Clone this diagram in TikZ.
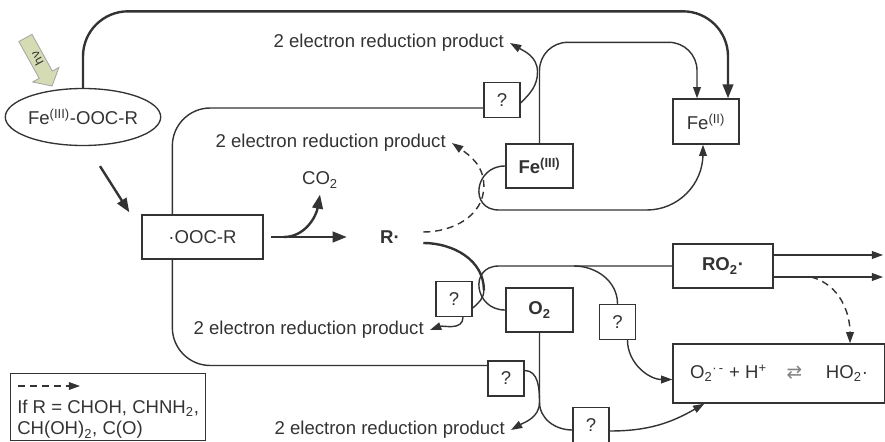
\documentclass[tikz,border=0pt]{standalone}
\usepackage{fontspec}
\setmainfont{Liberation Sans}
\newfontfamily\arrowfont{DejaVu Sans}
\usetikzlibrary{arrows.meta,calc,shapes.geometric}
\definecolor{ink}{HTML}{333333}
\definecolor{lightolive}{HTML}{D5DBB3}
\newlength\pxu
\setlength\pxu{0.025cm}

\begin{document}
\fontsize{13.2}{15}\selectfont
\begin{tikzpicture}[x=\pxu, y=\pxu, text=ink,
    wire/.style={draw=ink, line width=1pt},
    heavy/.style={draw=ink, line width=1.7pt},
    thinarrow/.style={-{Triangle[length=8pt,width=5.5pt]}},
    thickarrow/.style={-{Triangle[length=10pt,width=7.5pt]}},
    dashline/.style={wire, dash pattern=on 5pt off 3.5pt},
    box/.style={draw=ink, line width=0.95pt, inner sep=0pt, minimum height=44\pxu},
    boldbox/.style={box, line width=1.6pt, font=\bfseries},
    qbox/.style={box, minimum width=36\pxu, minimum height=35\pxu},
    product/.style={anchor=east, inner sep=6\pxu}]
    \path[use as bounding box, clip] (0,0) rectangle (885,441);
    % The light arrow for the light.
    \begin{scope}[shift={(38.75,379)}, rotate=-61]
        \filldraw[fill=lightolive, draw=gray!70, line width=0.6pt] (-27.5,-7.5) -- (14.5,-7.5) -- (14.5,-15) -- (27.5,0) -- (14.5,15) -- (14.5,7.5) -- (-27.5,7.5) -- cycle;
        \node[rotate=119, inner sep=0pt, font=\fontsize{9}{10}\selectfont] (hv) at (-4,0) {hν};
    \end{scope}
    % Below nodes are the species.
        \node[draw=ink, line width=0.95pt, ellipse, minimum width=141\pxu, minimum height=57\pxu, inner sep=0pt] (cpx) at (83,324) {Fe\textsuperscript{(III)}-OOC-R};
        \node[box, minimum width=121\pxu] (ooc) at (202.5,204) {·OOC-R};
        \node[font=\bfseries] (r) at (390,204) {R·};
        \node[] (co2) at (320,261) {CO\textsubscript{2}};
        \node[boldbox, minimum width=67\pxu] (fe3) at (539.5,275) {Fe\textsuperscript{(III)}};
        \node[box, minimum width=66\pxu, minimum height=45\pxu] (fe2) at (706,319.5) {Fe\textsuperscript{(II)}};
        \node[boldbox, minimum width=67\pxu] (o2) at (539.5,131) {O\textsubscript{2}};
        \node[boldbox, minimum width=100\pxu] (ro2) at (723,175) {RO\textsubscript{2}·};
        \node[box, minimum width=212\pxu, minimum height=59\pxu] (sup) at (779,67.5) {O\textsubscript{2}\textsuperscript{·\,-} + H\textsuperscript{+}\hspace{14pt}{\arrowfont\color{gray}⇄}\hspace{17pt}HO\textsubscript{2}·};
    % The unknown steps.
        \node[qbox] (q1) at (502,341) {?};
        \node[qbox] (q2) at (454,142) {?};
        \node[qbox] (q3) at (617.5,119) {?};
        \node[qbox] (q4) at (506,62.5) {?};
        \node[qbox] (q5) at (591,16) {?};
    % Below nodes are the products.
        \node[product] (p1) at (510,398) {2 electron reduction product};
        \node[product] (p2) at (452,298) {2 electron reduction product};
        \node[product] (p3) at (430,111) {2 electron reduction product};
        \node[product] (p4) at (511,11) {2 electron reduction product};
    % Key for the dashed arrow.
        \node[box, minimum width=195\pxu, minimum height=67\pxu, anchor=north west] (key) at (10,68) {};
        \draw[dashline, thinarrow] ($(key.north west)+(8,-13)$) -- ++(62,0);
        \node[anchor=north west, align=left, inner sep=0pt] (keytext) at ($(key.north west)+(7,-27)$) {If R = CHOH, CHNH\textsubscript{2},\\CH(OH)\textsubscript{2}, C(O)};
    % Heavy arrows of the main route.
        \draw[heavy, thickarrow, rounded corners=32] (cpx.north) |- ($(fe2.north)+(22,87)$) -- ($(fe2.north)+(22,0)$);
        \draw[heavy, thickarrow] ($(cpx.south)+(17,-20)$) -- ($(ooc.north west)+(-12,2)$);
        \draw[heavy, thickarrow] ($(ooc.east)+(7,0)$) -- ($(r.west)+(-27,0)$);
        \draw[heavy, thickarrow] ($(ooc.east)+(20,0)$) to[out=0, in=-100] (co2.south);
    % Iron cycle.
        \draw[wire, rounded corners=27] ($(ooc.north west)+(31,0)$) |- ($(q1.west)+(0,-8)$);
        \draw[wire, thinarrow] ($(q1.east)+(0,-3)$) to[out=45, in=-90] ($(fe3.north)+(-2,71)$) to[out=90, in=-30] (p1.east);
        \draw[wire, thinarrow, rounded corners=20] (fe3.north) |- ($(fe2.north)+(-9,56)$) -- ($(fe2.north)+(-9,0)$);
        \draw[wire, thinarrow] (fe3.west) to[out=180, in=180, looseness=1.75] ($(fe3.west)+(-6,-44)$) [rounded corners=40] -| ($(fe2.south)+(-3,0)$);
        \draw[dashline, thinarrow] ($(r.east)+(17,5)$) to[out=0, in=-90] ($(fe3.west)+(-21,-20)$) to[out=90, in=-35] (p2.east);
    % Oxygen branch.
        \coordinate (jr) at ($(o2.west)+(-21,20)$);
        \draw[heavy] ($(r.east)+(17,-6)$) to[out=0, in=90] (jr);
        \draw[wire] (jr) to[out=-90, in=40] ($(q2.east)+(0,-9)$);
        \draw[wire, thinarrow] ($(q2.south)+(9,0)$) to[out=-90, in=20] (p3.east);
        \draw[wire] (o2.west) to[out=180, in=180, looseness=1.75] ($(o2.west)+(-6,44)$) -- (ro2.west);
        \draw[wire] ($(o2.west)+(69,44)$) to[out=0, in=90] (q3.north);
        \draw[wire, thinarrow] ($(q3.south)+(10,0)$) to[out=-90, in=180] ($(sup.west)+(0,-6)$);
        \draw[wire, thinarrow] ($(ro2.east)+(0,11)$) -- ++(109,0);
        \draw[wire, thinarrow] ($(ro2.east)+(0,-11)$) -- ++(109,0);
        \draw[dashline, thinarrow] ($(ro2.east)+(37,-11)$) to[out=-15, in=90] ($(sup.north)+(71,0)$);
    % Lower branch.
        \coordinate (jo) at ($(o2.south)+(0,-69)$);
        \draw[wire, rounded corners=27] ($(ooc.south west)+(31,0)$) |- ($(q4.west)+(0,13)$);
        \draw[wire] (o2.south) -- (jo) to[out=-90, in=180] ($(q5.west)+(0,-5)$);
        \draw[wire, thinarrow] ($(q4.east)+(0,8)$) to[out=0, in=90] (jo) to[out=-90, in=30] (p4.east);
        \draw[wire, thinarrow] ($(q5.east)+(0,-6)$) to[out=0, in=-150] ($(sup.south west)+(32,0)$);
\end{tikzpicture}
\end{document}
